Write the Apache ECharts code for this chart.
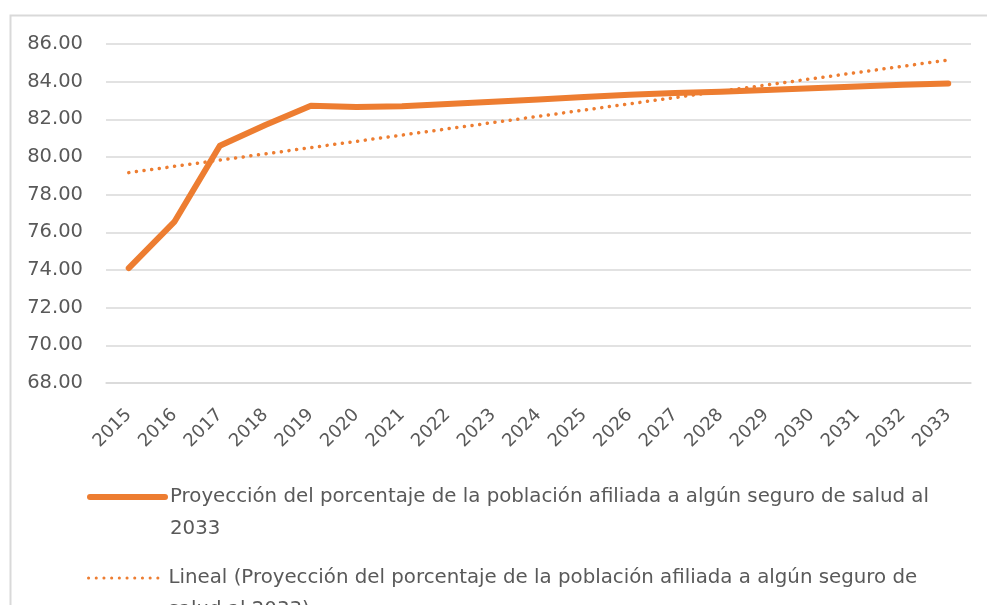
<!DOCTYPE html>
<html>
<head>
<meta charset="utf-8">
<script src="https://cdn.jsdelivr.net/npm/echarts@6/dist/echarts.min.js"></script>
<style>
html,body{margin:0;padding:0;background:#fff;}
#chart{width:987px;height:605px;}
</style>
</head>
<body>
<div id="chart"></div>
<script>
const years = ['2015','2016','2017','2018','2019','2020','2021','2022','2023','2024','2025','2026','2027','2028','2029','2030','2031','2032','2033'];
const afiliacion = [74.1, 76.55, 80.6, 81.7, 82.72, 82.65, 82.7, 82.82, 82.94, 83.05, 83.18, 83.3, 83.4, 83.47, 83.56, 83.65, 83.74, 83.83, 83.9];
// Linear trend line read at its two ends
const tendencia = [79.17, null, null, null, null, null, null, null, null, null, null, null, null, null, null, null, null, null, 85.15];
const yTicks = { min: 68, max: 86, interval: 2 };
const serieName = 'Proyección del porcentaje de la población afiliada a algún seguro de salud al 2033';
const trendName = 'Lineal (Proyección del porcentaje de la población afiliada a algún seguro de salud al 2033)';

const txt = '#595959';
const orange = '#ED7D31';
const font = 'DejaVu Sans';

const chart = echarts.init(document.getElementById('chart'), null, { renderer: 'canvas' });
const legendText = { color: txt, fontSize: 19.8, fontFamily: font, lineHeight: 32 };
chart.setOption({
  backgroundColor: '#fff',
  animation: false,
  graphic: [{
    type: 'rect', left: 8, top: 13, z: -10,
    shape: { width: 990, height: 600 },
    style: { fill: 'none', stroke: '#D9D9D9', lineWidth: 2 }
  }],
  grid: { left: 106, right: 16, top: 44, height: 339 },
  xAxis: {
    type: 'category', data: years, boundaryGap: true,
    axisLine: { show: true, lineStyle: { color: '#D9D9D9', width: 1.5 } },
    axisTick: { show: false },
    axisLabel: { rotate: 45, color: txt, fontSize: 18, fontFamily: font, margin: 29, interval: 0 }
  },
  yAxis: {
    type: 'value', min: yTicks.min, max: yTicks.max, interval: yTicks.interval,
    axisLine: { show: false }, axisTick: { show: false },
    splitLine: { lineStyle: { color: '#D9D9D9', width: 1.5 } },
    axisLabel: { color: txt, fontSize: 19.5, fontFamily: font, margin: 23, formatter: v => v.toFixed(2) }
  },
  legend: [{
    data: [serieName], left: 87, top: 449, padding: 0, itemWidth: 75, itemHeight: 14,
    selectedMode: false, itemStyle: { opacity: 0 },
    lineStyle: { width: 6, cap: 'round' },
    textStyle: legendText,
    formatter: () => ' \nProyección del porcentaje de la población afiliada a algún seguro de salud al\n2033'
  }, {
    data: [trendName], left: 87, top: 530, padding: 0, itemWidth: 75, itemHeight: 14,
    selectedMode: false, itemStyle: { opacity: 0 },
    lineStyle: { width: 3, cap: 'round' },
    textStyle: legendText,
    formatter: () => ' \nLineal (Proyección del porcentaje de la población afiliada a algún seguro de\nsalud al 2033)'
  }],
  series: [{
    name: serieName, type: 'line', data: afiliacion, showSymbol: false, symbol: 'none',
    lineStyle: { color: orange, width: 6, cap: 'round', join: 'round' },
    itemStyle: { color: orange }, z: 3
  }, {
    name: trendName, type: 'line', data: tendencia, connectNulls: true, showSymbol: false, symbol: 'none',
    lineStyle: { color: orange, width: 3.5, type: [0.1, 7.6], cap: 'round' },
    itemStyle: { color: orange }, z: 2
  }]
});
</script>
</body>
</html>
